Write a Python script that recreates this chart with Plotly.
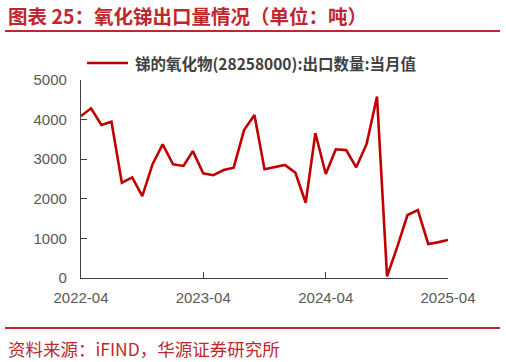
import plotly.graph_objects as go
import pandas as pd

months = pd.date_range("2022-04-01", "2025-04-01", freq="MS").strftime("%Y-%m-%d").tolist()
values = [4090, 4285, 3865, 3945, 2405, 2540, 2070, 2880, 3375, 2870,
          2830, 3205, 2645, 2595, 2725, 2785, 3735, 4115, 2745, 2810,
          2855, 2660, 1900, 3655, 2625, 3250, 3230, 2795, 3385, 4580,
          40, 800, 1590, 1715, 860, 900, 960]
series_name = "锑的氧化物(28258000):出口数量:当月值"
tick_dates = ["2022-04-01", "2023-04-01", "2024-04-01", "2025-04-01"]
tick_labels = ["2022-04", "2023-04", "2024-04", "2025-04"]
title_text = "图表 25：氧化锑出口量情况（单位：吨）"
source_text = "资料来源：iFIND，华源证券研究所"

W, H = 506, 362
L, R, T, B = 81, 448, 80, 278
pw, ph = R - L, B - T

def px(x):
    return (x - L) / pw

def py(y):
    return (B - y) / ph

RED = "#C0272D"
LINE = "#C00000"
AX = "#404040"

fig = go.Figure()
fig.add_trace(go.Scatter(x=months, y=values, mode="lines", name=series_name,
                         line=dict(color=LINE, width=2.6), showlegend=False))

fig.update_layout(
    width=W, height=H,
    margin=dict(l=L, r=W - R, t=T, b=H - B, pad=0),
    paper_bgcolor="white", plot_bgcolor="white",
    font=dict(family="Liberation Sans, Arial, Noto Sans CJK SC", color="#595959", size=15),
    showlegend=False,
    xaxis=dict(type="date", range=["2022-04-01", "2025-04-01"],
               tickvals=tick_dates, ticktext=tick_labels,
               showgrid=False, zeroline=False,
               showline=True, linecolor=AX, linewidth=1.3,
               ticks="inside", ticklen=6, tickcolor=AX, tickwidth=1.3,
               ticklabelstandoff=6,
               tickfont=dict(size=15, color="#595959")),
    yaxis=dict(range=[0, 5000], tickvals=[0, 1000, 2000, 3000, 4000, 5000],
               showgrid=False, zeroline=False,
               showline=True, linecolor=AX, linewidth=1.3,
               ticks="inside", ticklen=6, tickcolor=AX, tickwidth=1.3,
               ticklabelstandoff=10,
               tickfont=dict(size=15, color="#595959")),
)

# legend (drawn manually to match the reference's long line sample)
fig.add_shape(type="line", xref="paper", yref="paper",
              x0=px(87), x1=px(128), y0=py(63), y1=py(63),
              line=dict(color=LINE, width=2.6))
fig.add_annotation(text=series_name, xref="paper", yref="paper",
                   x=px(133), y=py(63), xanchor="left", yanchor="middle",
                   showarrow=False,
                   font=dict(family="Noto Sans CJK SC", size=15.5, color="#404040", weight="bold"))

fig.add_shape(type="line", xref="paper", yref="paper",
              x0=px(5), x1=px(500), y0=py(31), y1=py(31),
              line=dict(color=RED, width=2))
fig.add_shape(type="line", xref="paper", yref="paper",
              x0=px(5), x1=px(500), y0=py(328), y1=py(328),
              line=dict(color=RED, width=2))

fig.add_annotation(text=title_text, xref="paper", yref="paper",
                   x=px(6), y=py(15), xanchor="left", yanchor="middle",
                   showarrow=False,
                   font=dict(family="Noto Sans CJK SC", size=19.5, color=RED, weight="bold"))
fig.add_annotation(text=source_text, xref="paper", yref="paper",
                   x=px(6), y=py(348), xanchor="left", yanchor="middle",
                   showarrow=False,
                   font=dict(family="Noto Sans CJK SC", size=17.5, color=RED))

fig.write_html("out.html", config={"displayModeBar": False},
               post_script="document.body.style.margin='0';document.body.style.overflow='hidden';")
